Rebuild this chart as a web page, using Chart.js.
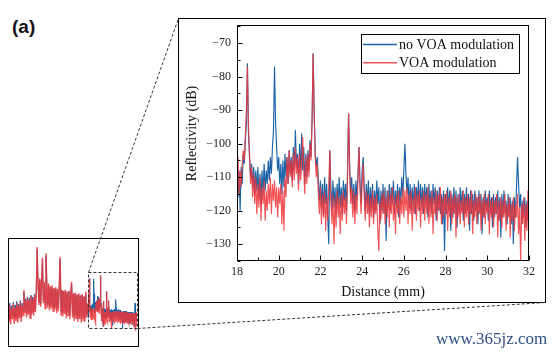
<!DOCTYPE html>
<html><head><meta charset="utf-8">
<script src="https://cdn.jsdelivr.net/npm/chart.js@4.4.1/dist/chart.umd.min.js"></script>
<style>
html,body{margin:0;padding:0;background:#fff;}
body{width:559px;height:355px;position:relative;overflow:hidden;}
canvas{position:absolute;left:0;top:0;}
#lab{position:absolute;left:12px;top:16px;font:bold 19px "Liberation Sans",Arial,sans-serif;color:#111;}
#wm{position:absolute;left:436px;top:329px;font:17px "Liberation Serif",serif;color:#2d4e86;white-space:nowrap;}
</style></head><body>
<div id="lab">(a)</div>
<canvas id="main" width="559" height="355"></canvas>
<canvas id="mini" width="559" height="355"></canvas>
<div id="wm">www.365jz.com</div>
<script>
// ---------- data ----------
const seriesNames = ['no VOA modulation', 'VOA modulation'];
const xTitle = 'Distance (mm)';
const yTitle = 'Reflectivity (dB)';
const xTickValues = [18, 20, 22, 24, 26, 28, 30, 32];
const yTickValues = [-130, -120, -110, -100, -90, -80, -70];

// zoomed trace, 18.00 ... 32.00 mm, sampled every 0.05 mm
const detailStart = 18, detailStep = 0.05;
const noVoaDetail = [
 -105,-116,-108,-120,-107,-112,-103,-106,-99,-94,-76,-97,-104,-110,-106,-113,-107,-115,-108,-114,
 -107,-116,-109,-118,-108,-115,-106,-114,-108,-112,-105,-111,-104,-109,-101,-96,-77,-94,-101,-108,
 -104,-112,-106,-115,-105,-113,-103,-110,-104,-112,-102,-109,-104,-111,-101,-108,-96,-107,-103,-112,
 -100,-109,-97,-108,-101,-112,-103,-110,-102,-108,-99,-104,-93,-73,-90,-103,-107,-104,-111,-117,
 -111,-119,-112,-121,-110,-118,-112,-122,-130,-102,-113,-120,-111,-119,-113,-121,-112,-118,-110,-119,
 -113,-121,-111,-117,-112,-120,-108,-91,-106,-115,-110,-118,-112,-120,-111,-117,-109,-101,-112,-118,
 -108,-104,-113,-120,-112,-118,-111,-121,-113,-119,-112,-122,-114,-120,-111,-118,-113,-124,-114,-120,
 -112,-121,-113,-129,-114,-119,-112,-120,-113,-118,-111,-121,-114,-119,-112,-122,-113,-118,-110,-116,
 -108,-100,-109,-115,-110,-119,-112,-120,-113,-119,-112,-121,-113,-118,-111,-120,-112,-119,-113,-121,
 -112,-118,-113,-122,-112,-119,-114,-121,-112,-118,-113,-123,-114,-120,-113,-121,-115,-124,-114,-132,
 -115,-121,-113,-120,-114,-126,-115,-122,-113,-121,-114,-125,-115,-121,-113,-120,-114,-123,-115,-121,
 -113,-120,-115,-126,-114,-121,-115,-123,-114,-120,-116,-124,-114,-121,-115,-127,-116,-122,-114,-120,
 -116,-123,-114,-121,-116,-125,-115,-122,-116,-121,-114,-123,-116,-128,-115,-122,-114,-121,-117,-124,
 -115,-122,-116,-124,-117,-130,-116,-122,-113,-104,-112,-119,-115,-124,-117,-122,-116,-125,-117,-123,
 -118
];
const voaDetail = [
 -110,-104,-115,-108,-113,-106,-102,-105,-98,-90,-77,-95,-103,-112,-107,-116,-109,-118,-110,-121,
 -112,-119,-110,-123,-113,-118,-111,-123,-114,-120,-112,-118,-110,-121,-112,-117,-111,-119,-113,-122,
 -113,-118,-112,-124,-114,-126,-110,-116,-104,-112,-102,-110,-105,-113,-103,-111,-101,-109,-104,-114,
 -103,-111,-105,-98,-108,-115,-104,-112,-103,-110,-100,-105,-92,-73,-91,-104,-110,-106,-115,-121,
 -113,-124,-115,-122,-114,-126,-116,-123,-112,-102,-117,-124,-115,-130,-116,-125,-114,-122,-116,-127,
 -115,-123,-114,-121,-116,-124,-110,-91,-108,-118,-113,-122,-114,-124,-115,-121,-110,-101,-114,-121,
 -112,-106,-116,-123,-114,-121,-115,-125,-116,-122,-114,-124,-116,-121,-115,-126,-132,-117,-123,-115,
 -121,-114,-124,-116,-122,-114,-125,-115,-121,-113,-123,-116,-127,-115,-121,-114,-124,-116,-121,-113,
 -122,-114,-120,-113,-124,-115,-121,-114,-126,-116,-121,-113,-123,-115,-120,-114,-125,-116,-121,-114,
 -123,-115,-121,-113,-124,-116,-122,-114,-127,-116,-121,-114,-123,-115,-120,-113,-124,-116,-122,-115,
 -121,-114,-126,-116,-122,-114,-124,-116,-121,-115,-128,-116,-122,-115,-124,-117,-121,-114,-125,-116,
 -122,-115,-124,-116,-121,-114,-127,-117,-122,-115,-124,-116,-121,-115,-126,-117,-122,-115,-124,-117,
 -121,-115,-127,-117,-122,-116,-125,-117,-121,-115,-128,-117,-123,-116,-125,-117,-122,-115,-126,-118,
 -122,-116,-128,-118,-123,-116,-126,-118,-122,-115,-127,-119,-135,-118,-124,-116,-129,-118,-126,-114,
 -130
];

// overview trace (inset), -4.5 ... 17.75 mm, every 0.25 mm
const overviewStart = -4.5, overviewStep = 0.25;
const noVoaOverview = [
 -105,-120,-104,-122,-107,-118,-103,-121,-106,-119,
 -102,-121,-105,-117,-101,-120,-104,-114,-92,-112,
 -99,-116,-97,-114,-98,-117,-95,-113,-97,-114,
 -94,-111,-91,-44,-84,-103,-78,-105,-81,-56,
 -101,-82,-106,-51,-85,-105,-84,-108,-86,-106,
 -86,-109,-88,-108,-88,-111,-89,-109,-87,-55,
 -113,-90,-115,-91,-112,-90,-117,-92,-114,-91,
 -118,-93,-83,-116,-94,-120,-93,-117,-95,-121,
 -94,-118,-96,-122,-95,-119,-97,-121,-93,-116
];
const voaOverview = [
 -108,-125,-106,-128,-110,-122,-105,-127,-109,-124,
 -104,-126,-107,-121,-103,-125,-106,-118,-89,-115,
 -101,-120,-98,-117,-100,-121,-96,-116,-99,-118,
 -95,-114,-92,-41,-82,-106,-76,-108,-79,-53,
 -104,-80,-110,-48,-83,-109,-82,-112,-85,-110,
 -84,-113,-87,-111,-86,-115,-88,-113,-85,-52,
 -117,-89,-119,-90,-116,-89,-121,-91,-118,-90,
 -122,-92,-80,-120,-93,-124,-92,-121,-94,-125,
 -93,-122,-95,-126,-94,-123,-96,-125,-91,-120
];

// ---------- build ----------
const toPts = (start, step, arr) => arr.map((v, i) => ({ x: +(start + i * step).toFixed(2), y: v }));
const blueDetail = toPts(detailStart, detailStep, noVoaDetail);
const redDetail = toPts(detailStart, detailStep, voaDetail);
const blueFull = toPts(overviewStart, overviewStep, noVoaOverview).concat(blueDetail);
const redFull = toPts(overviewStart, overviewStep, voaOverview).concat(redDetail);

const BLUE = '#1c64a8';
const RED = 'rgba(239,55,58,0.86)';
const SERIF = '"Liberation Serif", "Times New Roman", serif';

const PANEL = { l: 178.5, t: 18.5, r: 545.5, b: 302.5 };

const mainDecor = {
  id: 'mainDecor',
  afterDatasetsDraw(chart) {
    const { ctx, chartArea: a, scales: { x, y } } = chart;
    ctx.save();
    ctx.strokeStyle = '#000';
    ctx.lineWidth = 1;
    const L = Math.round(a.left) + 0.5, T = Math.round(a.top) + 0.5;
    const R = Math.round(a.right) - 0.5, B = Math.round(a.bottom) - 0.5;
    ctx.strokeRect(L, T, R - L, B - T);
    ctx.beginPath();
    xTickValues.forEach((v, i) => {
      const px = Math.round(x.getPixelForValue(v)) + 0.5;
      ctx.moveTo(px, B); ctx.lineTo(px, B - 5);
      if (i < xTickValues.length - 1) {
        const m = Math.round(x.getPixelForValue((v + xTickValues[i + 1]) / 2)) + 0.5;
        ctx.moveTo(m, B); ctx.lineTo(m, B - 3);
      }
    });
    yTickValues.forEach((v) => {
      const py = Math.round(y.getPixelForValue(v)) + 0.5;
      ctx.moveTo(L, py); ctx.lineTo(L + 5, py);
      const m = Math.round(y.getPixelForValue(v - 5)) + 0.5;
      ctx.moveTo(L, m); ctx.lineTo(L + 3, m);
    });
    const top = Math.round(y.getPixelForValue(yTickValues[yTickValues.length - 1] + 5)) + 0.5;
    if (top > a.top) { ctx.moveTo(L, top); ctx.lineTo(L + 3, top); }
    ctx.stroke();

    // legend
    const lx = a.right - 168, ly = a.top + 9;
    ctx.fillStyle = '#fff';
    ctx.fillRect(lx, ly, 158, 39);
    ctx.strokeRect(Math.round(lx) + 0.5, Math.round(ly) + 0.5, 158, 39);
    const ds = chart.data.datasets;
    ctx.font = '14px ' + SERIF;
    ctx.textBaseline = 'middle';
    ctx.textAlign = 'left';
    [0, 1].forEach((k, i) => {
      const yy = ly + 10.5 + i * 18.3;
      ctx.strokeStyle = ds[k].borderColor;
      ctx.lineWidth = 1.5;
      ctx.beginPath(); ctx.moveTo(lx + 2, yy); ctx.lineTo(lx + 36, yy); ctx.stroke();
      ctx.fillStyle = '#111';
      ctx.fillText(ds[k].label, lx + 38, yy + 0.5);
    });

    // axis titles
    ctx.fillStyle = '#111';
    ctx.font = '14px ' + SERIF;
    ctx.textAlign = 'center';
    ctx.textBaseline = 'middle';
    ctx.fillText(xTitle, (a.left + a.right) / 2, a.bottom + 31);
    ctx.save();
    ctx.translate(a.left - 45, (a.top + a.bottom) / 2 - 9.5);
    ctx.rotate(-Math.PI / 2);
    ctx.fillText(yTitle, 0, 0);
    ctx.restore();

    // outer panel
    ctx.strokeStyle = '#000';
    ctx.lineWidth = 1;
    ctx.strokeRect(PANEL.l, PANEL.t, PANEL.r - PANEL.l, PANEL.b - PANEL.t);
    ctx.restore();
  }
};

new Chart(document.getElementById('main'), {
  type: 'line',
  data: {
    datasets: [
      { label: seriesNames[0], data: blueDetail, borderColor: BLUE, borderWidth: 1.15, pointRadius: 0, tension: 0, order: 2 },
      { label: seriesNames[1], data: redDetail, borderColor: RED, borderWidth: 1.15, pointRadius: 0, tension: 0, order: 1 }
    ]
  },
  options: {
    responsive: false, animation: false, devicePixelRatio: 1,
    layout: { padding: { left: 178, top: 25, right: 30, bottom: 52 } },
    plugins: { legend: { display: false }, tooltip: { enabled: false } },
    scales: {
      x: {
        type: 'linear', min: 18, max: 32,
        afterBuildTicks: s => { s.ticks = xTickValues.map(v => ({ value: v })); },
        afterFit: s => { s.height = 42; },
        grid: { display: false, drawTicks: false },
        border: { display: false },
        ticks: { padding: 4, autoSkip: false, maxRotation: 0, color: '#222', font: { family: SERIF, size: 12 } }
      },
      y: {
        min: -135, max: -64.6,
        afterBuildTicks: s => { s.ticks = yTickValues.map(v => ({ value: v })); },
        afterFit: s => { s.width = 59; },
        grid: { display: false, drawTicks: false },
        border: { display: false },
        ticks: { padding: 6, color: '#222', font: { family: SERIF, size: 12 },
          callback: v => String(v).replace('-', '\u2212') }
      }
    }
  },
  plugins: [mainDecor]
});

const miniDecor = {
  id: 'miniDecor',
  afterDatasetsDraw(chart) {
    const { ctx, scales: { x, y } } = chart;
    ctx.save();
    ctx.strokeStyle = '#000';
    ctx.lineWidth = 1;
    ctx.strokeRect(8.5, 238.5, 130, 108);
    const x0 = x.getPixelForValue(18), x1 = x.getPixelForValue(32);
    const y0 = y.getPixelForValue(-69), y1 = y.getPixelForValue(-132);
    ctx.setLineDash([3, 2]);
    ctx.strokeStyle = '#333';
    ctx.strokeRect(Math.round(x0) + 0.5, Math.round(y0) + 0.5, Math.round(x1 - x0), Math.round(y1 - y0));
    ctx.beginPath();
    ctx.moveTo(Math.round(x0) + 0.5, Math.round(y0) + 0.5); ctx.lineTo(PANEL.l, PANEL.t);
    ctx.moveTo(Math.round(x1) + 0.5, Math.round(y1) + 0.5); ctx.lineTo(PANEL.r, PANEL.b);
    ctx.stroke();
    ctx.restore();
  }
};

new Chart(document.getElementById('mini'), {
  type: 'line',
  data: {
    datasets: [
      { label: seriesNames[0], data: blueFull, borderColor: BLUE, borderWidth: 1, pointRadius: 0, tension: 0, order: 2 },
      { label: seriesNames[1], data: redFull, borderColor: RED, borderWidth: 1.4, pointRadius: 0, tension: 0, order: 1 }
    ]
  },
  options: {
    responsive: false, animation: false, devicePixelRatio: 1,
    layout: { padding: { left: 8, top: 238, right: 422, bottom: 9 } },
    plugins: { legend: { display: false }, tooltip: { enabled: false } },
    scales: {
      x: { type: 'linear', display: false, min: -4.5, max: 32 },
      y: { display: false, min: -152, max: -31 }
    }
  },
  plugins: [miniDecor]
});
</script>
</body></html>
